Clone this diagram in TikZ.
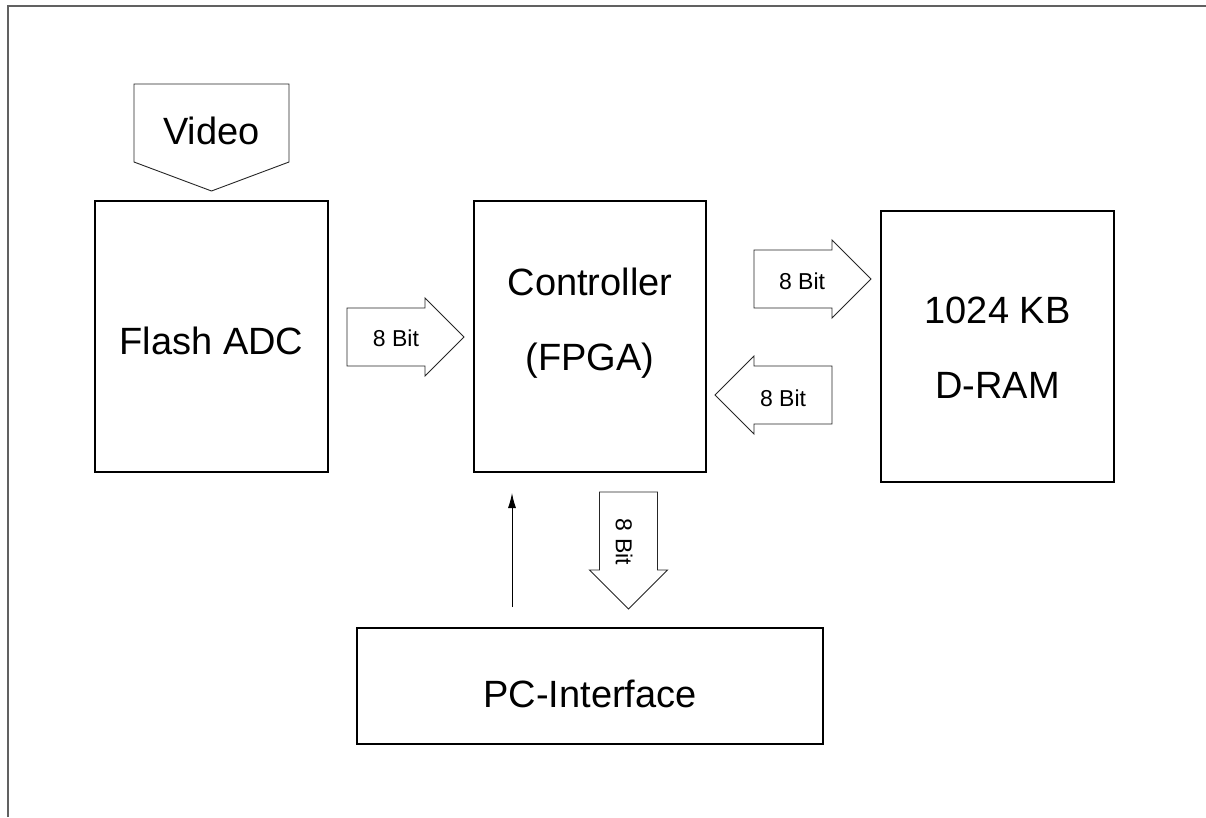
\documentclass[tikz,border=0pt]{standalone}
\usepackage{fontspec}
\setmainfont{Liberation Sans}
\usetikzlibrary{arrows.meta}
\begin{document}
\begin{tikzpicture}[x=1pt,y=-1pt,
  frameline/.style={draw=black!62,line width=2},
  box/.style={draw=black,line width=1.7,inner sep=0,outer sep=0},
  bigtext/.style={font=\fontsize{38}{75}\selectfont,align=center,inner sep=0},
  smalltext/.style={font=\fontsize{23}{28}\selectfont,inner sep=0},
  arrowline/.style={draw=black!85,line width=0.9,fill=white},
  bitarrow/.pic={
    \draw[arrowline] (0,-29) -- (78,-29) -- (78,-39) -- (117,0)
      -- (78,39) -- (78,29) -- (0,29) -- cycle;
  },
  thinarrow/.style={line width=0.9,-{Latex[length=15,width=8]}}
]
\useasboundingbox (0,0) rectangle (1206,817);

% outer frame (top and left edges)
\draw[frameline] (8,817) -- (8,6) -- (1206,6);

% video input marker
\draw[arrowline] (134,84) -- (289,84) -- (289,162) -- (211.5,191) -- (134,162) -- cycle;
\node[bigtext] (video) at (211.5,131) {Video};

% main blocks
\node[box,minimum width=233,minimum height=271] (adc) at (211.5,336.5) {};
\node[bigtext] (adctext) at (211.5,341) {Flash ADC};

\node[box,minimum width=232,minimum height=271] (ctrl) at (590,336.5) {};
\node[bigtext] (ctrltext) at (590,323) {Controller\\(FPGA)};

\node[box,minimum width=233,minimum height=271] (dram) at (997.5,346.5) {};
\node[bigtext] (dramtext) at (997.5,348) {1024 KB\\D-RAM};

\node[box,minimum width=466,minimum height=116] (pc) at (590,686) {};
\node[bigtext] (pctext) at (590,694) {PC-Interface};

% 8-bit buses
\pic at (347,337) {bitarrow};
\node[smalltext] (bus1) at (396,338) {8 Bit};

\pic at (754,279) {bitarrow};
\node[smalltext] (bus2) at (802,281) {8 Bit};

\pic[rotate=180] at (832,395) {bitarrow};
\node[smalltext] (bus3) at (783,398) {8 Bit};

\pic[rotate=-90] at (628.5,492) {bitarrow};
\node[smalltext,rotate=-90] (bus4) at (624,542) {8 Bit};

% control line from the PC interface
\coordinate (ctlfrom) at (512,607);
\coordinate (ctlto) at (512,493);
\draw[thinarrow] (ctlfrom) -- (ctlto);
\end{tikzpicture}
\end{document}
